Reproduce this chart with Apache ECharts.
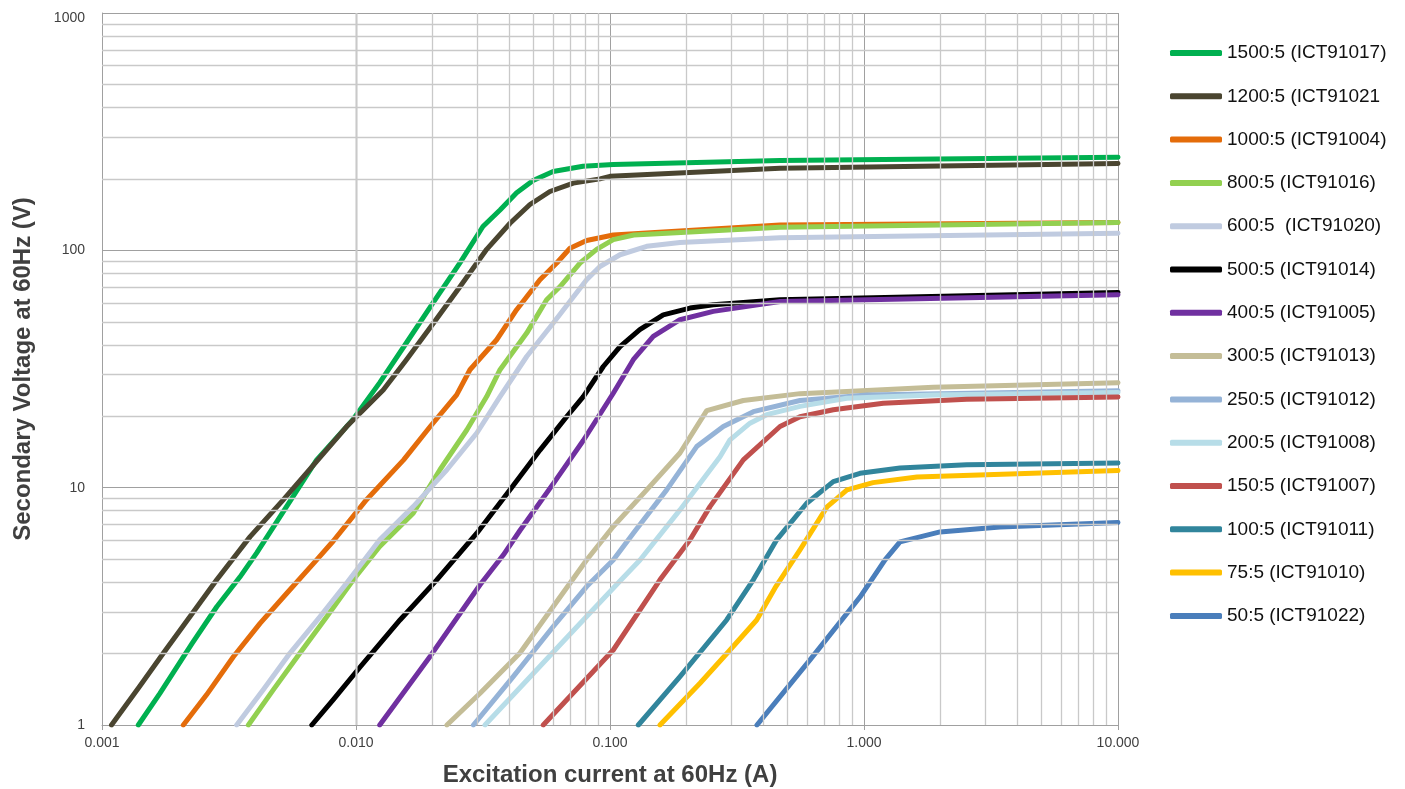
<!DOCTYPE html>
<html>
<head>
<meta charset="utf-8">
<title>CT excitation curves</title>
<script src="https://cdn.jsdelivr.net/npm/echarts@6/dist/echarts.min.js"></script>
<style>
html, body { margin: 0; padding: 0; background: #fff; }
#chart { width: 1405px; height: 789px; }
</style>
</head>
<body>
<div id="chart"></div>
<script>
// excitation current (A) / secondary voltage (V)
var i1500 = [0.00139, 0.00169, 0.00226, 0.00283, 0.00349, 0.00406, 0.0070, 0.0097, 0.0124, 0.0158, 0.0201, 0.0257, 0.0316, 0.0369, 0.0429, 0.0498, 0.0597, 0.0783, 0.103, 0.467, 10];
var v1500 = [1, 1.36, 2.2, 3.15, 4.2, 5.3, 13.1, 19.3, 27.7, 40.8, 60.1, 88.7, 126, 148, 175, 197, 215, 226, 230, 239, 247];

var i1200 = [0.00109, 0.00141, 0.00174, 0.00216, 0.00283, 0.00383, 0.00517, 0.0070, 0.00919, 0.0128, 0.0158, 0.0202, 0.0257, 0.0327, 0.0404, 0.0484, 0.0580, 0.0717, 0.0913, 0.10, 0.467, 10];
var v1200 = [1, 1.46, 2.0, 2.75, 4.09, 6.22, 8.88, 12.9, 18.1, 25.8, 34.6, 49.4, 70.4, 101, 130, 156, 177, 192, 200, 205, 222, 232];

var i1000 = [0.00209, 0.00258, 0.00329, 0.00419, 0.00534, 0.0070, 0.00814, 0.0110, 0.0154, 0.0196, 0.0249, 0.0281, 0.0358, 0.0429, 0.0530, 0.0617, 0.0696, 0.0809, 0.103, 0.467, 10];
var v1000 = [1, 1.34, 1.94, 2.68, 3.59, 4.96, 5.96, 8.9, 13.1, 18.1, 24.6, 31.4, 42.0, 56.2, 75.2, 88.4, 102, 110, 116, 128, 131];

var i800 = [0.00377, 0.00473, 0.00602, 0.00767, 0.00976, 0.0124, 0.0168, 0.0214, 0.0273, 0.0327, 0.0369, 0.0470, 0.0563, 0.0636, 0.0762, 0.0886, 0.103, 0.124, 0.467, 10];
var v800 = [1, 1.41, 2.01, 2.86, 4.09, 5.65, 7.81, 11.9, 17.5, 24.2, 31.4, 44.8, 61.9, 70.4, 88.4, 101, 111, 116, 125, 131];

var i600 = [0.00339, 0.00432, 0.0055, 0.00722, 0.00919, 0.0124, 0.0168, 0.0228, 0.0299, 0.0369, 0.0470, 0.0598, 0.0809, 0.0913, 0.1095, 0.1395, 0.1886, 0.467, 10];
var v600 = [1, 1.41, 2.01, 2.86, 3.96, 6.03, 8.32, 11.9, 17.0, 24.2, 35.7, 49.4, 75.2, 85.5, 95.8, 104, 108, 113, 118];

var i500 = [0.0067, 0.00814, 0.0104, 0.0149, 0.0208, 0.0299, 0.0404, 0.0530, 0.0675, 0.0785, 0.0941, 0.1095, 0.131, 0.162, 0.2065, 0.255, 0.467, 10];
var v500 = [1, 1.28, 1.76, 2.77, 4.09, 6.43, 9.79, 14.4, 19.9, 24.2, 32.4, 39.3, 46.3, 53.5, 57.1, 59.0, 61.9, 66.5];

var i400 = [0.0124, 0.0196, 0.0308, 0.0380, 0.0442, 0.0598, 0.0785, 0.103, 0.1235, 0.148, 0.1886, 0.255, 0.467, 10];
var v400 = [1, 1.95, 3.9, 5.2, 6.6, 10.4, 15.8, 25.0, 34.6, 43.4, 51.0, 55.3, 60.9, 65.0];

var i300 = [0.0228, 0.0308, 0.0442, 0.0636, 0.0809, 0.103, 0.1395, 0.1886, 0.2403, 0.3348, 0.5598, 0.855, 1.874, 10];
var v300 = [1, 1.36, 2.01, 3.46, 4.96, 6.86, 9.79, 14.0, 21.1, 23.3, 24.9, 25.4, 26.5, 27.7];

var i250 = [0.029, 0.0416, 0.0598, 0.0809, 0.103, 0.1235, 0.1672, 0.2194, 0.2793, 0.3666, 0.5598, 1.025, 10];
var v250 = [1, 1.60, 2.60, 3.83, 4.96, 6.43, 9.79, 14.9, 18.1, 20.9, 23.3, 24.6, 25.6];

var i200 = [0.0322, 0.047, 0.0675, 0.1095, 0.1313, 0.1886, 0.2711, 0.2968, 0.3557, 0.414, 0.5598, 0.855, 1.874, 10];
var v200 = [1, 1.54, 2.33, 4.04, 4.96, 8.06, 13.5, 15.9, 18.7, 20.3, 22.0, 23.8, 24.6, 25.2];

var i150 = [0.0546, 0.103, 0.1573, 0.2065, 0.2475, 0.3348, 0.467, 0.5598, 0.757, 1.191, 2.537, 10];
var v150 = [1, 2.07, 4.09, 6.03, 8.32, 13.1, 18.1, 19.9, 21.3, 22.7, 23.6, 24.1];

var i100 = [0.1293, 0.1886, 0.2879, 0.3666, 0.4532, 0.5949, 0.757, 0.9645, 1.386, 2.537, 10];
var v100 = [1, 1.60, 2.77, 4.09, 6.03, 8.60, 10.6, 11.5, 12.1, 12.5, 12.7];

var i75 = [0.1573, 0.2261, 0.2968, 0.378, 0.4463, 0.5598, 0.7151, 0.8574, 1.085, 1.617, 10];
var v75 = [1, 1.50, 2.07, 2.77, 3.78, 5.47, 8.30, 9.79, 10.5, 11.1, 11.8];

var i50 = [0.379, 0.6129, 0.9645, 1.21, 1.386, 1.992, 3.431, 10];
var v50 = [1, 1.88, 3.46, 4.96, 5.91, 6.51, 6.83, 7.13];

var seriesNames = ['1500:5 (ICT91017)', '1200:5 (ICT91021', '1000:5 (ICT91004)', '800:5 (ICT91016)',
    '600:5  (ICT91020)', '500:5 (ICT91014)', '400:5 (ICT91005)', '300:5 (ICT91013)', '250:5 (ICT91012)',
    '200:5 (ICT91008)', '150:5 (ICT91007)', '100:5 (ICT91011)', '75:5 (ICT91010)', '50:5 (ICT91022)'];
var seriesColors = ['#00b050', '#4a4530', '#e46c0a', '#92d050', '#c0cbe0', '#000000', '#7030a0',
    '#c4bd97', '#95b3d7', '#b7dde8', '#c0504d', '#31859c', '#ffc000', '#4a7ebb'];
var currents = [i1500, i1200, i1000, i800, i600, i500, i400, i300, i250, i200, i150, i100, i75, i50];
var voltages = [v1500, v1200, v1000, v800, v600, v500, v400, v300, v250, v200, v150, v100, v75, v50];

// decade lines (labelled) and the 2..9 lines in between
var xDecades = [0.001, 0.01, 0.1, 1, 10];
var yDecades = [1, 10, 100, 1000];
var steps = [2, 3, 4, 5, 6, 7, 8, 9];

var minorX = [];
xDecades.slice(0, -1).forEach(function (d) {
    steps.forEach(function (s) { minorX.push({ xAxis: s * d }); });
});
var minorY = [];
yDecades.slice(0, -1).forEach(function (d) {
    steps.forEach(function (s) { minorY.push({ yAxis: s * d }); });
});

var series = [{
    name: 'grid',
    type: 'line',
    data: [],
    silent: true,
    z: 1,
    markLine: {
        silent: true,
        symbol: 'none',
        animation: false,
        label: { show: false },
        lineStyle: { color: '#c9c9c9', width: 1.3, type: 'solid' },
        emphasis: { disabled: true },
        data: minorX.concat(minorY)
    }
}];

seriesNames.forEach(function (name, k) {
    series.push({
        name: name,
        type: 'line',
        data: currents[k].map(function (c, j) { return [c, voltages[k][j]]; }),
        showSymbol: false,
        smooth: false,
        z: 3,
        lineStyle: { width: 5, color: seriesColors[k], cap: 'round', join: 'round' },
        itemStyle: { color: seriesColors[k] }
    });
});

var chart = echarts.init(document.getElementById('chart'));

chart.setOption({
    animation: false,
    backgroundColor: '#ffffff',
    grid: {
        left: 102,
        right: 287,
        top: 13,
        bottom: 64,
        containLabel: false,
        outerBoundsMode: 'none'
    },
    legend: {
        data: seriesNames,
        orient: 'vertical',
        left: 1170,
        top: 43,
        padding: 0,
        icon: 'roundRect',
        itemWidth: 52,
        itemHeight: 6,
        itemGap: 23.3,
        textStyle: {
            fontFamily: 'Liberation Sans',
            fontSize: 19,
            lineHeight: 20,
            color: '#111111'
        }
    },
    xAxis: {
        type: 'log',
        logBase: 10,
        min: 0.001,
        max: 10,
        name: 'Excitation current at 60Hz (A)',
        nameLocation: 'middle',
        nameGap: 38,
        nameTextStyle: {
            fontFamily: 'Liberation Sans',
            fontWeight: 'bold',
            fontSize: 24,
            color: '#404040'
        },
        axisLine: { show: true, lineStyle: { color: '#a0a0a0', width: 1 } },
        axisTick: { show: true, length: 5, lineStyle: { color: '#a0a0a0' } },
        axisLabel: {
            fontFamily: 'Liberation Sans',
            fontSize: 14,
            color: '#404040',
            margin: 11,
            formatter: function (val) { return val.toFixed(3); }
        },
        splitLine: { show: true, lineStyle: { color: '#a0a0a0', width: 1 } }
    },
    yAxis: {
        type: 'log',
        logBase: 10,
        min: 1,
        max: 1000,
        name: 'Secondary Voltage at 60Hz (V)',
        nameLocation: 'middle',
        nameGap: 67,
        nameTextStyle: {
            fontFamily: 'Liberation Sans',
            fontWeight: 'bold',
            fontSize: 24,
            color: '#404040'
        },
        axisLine: { show: true, lineStyle: { color: '#a0a0a0', width: 1 } },
        axisTick: { show: false },
        axisLabel: {
            fontFamily: 'Liberation Sans',
            fontSize: 14,
            color: '#404040',
            margin: 17,
            formatter: function (val) {
                // the top label sits a little below its gridline in the original
                return val >= 1000 ? '{top|' + val + '}' : String(val);
            },
            rich: {
                top: { fontFamily: 'Liberation Sans', fontSize: 14, color: '#404040', padding: [10, 0, 0, 0] }
            }
        },
        splitLine: { show: true, lineStyle: { color: '#a0a0a0', width: 1 } }
    },
    series: series
});
</script>
</body>
</html>
